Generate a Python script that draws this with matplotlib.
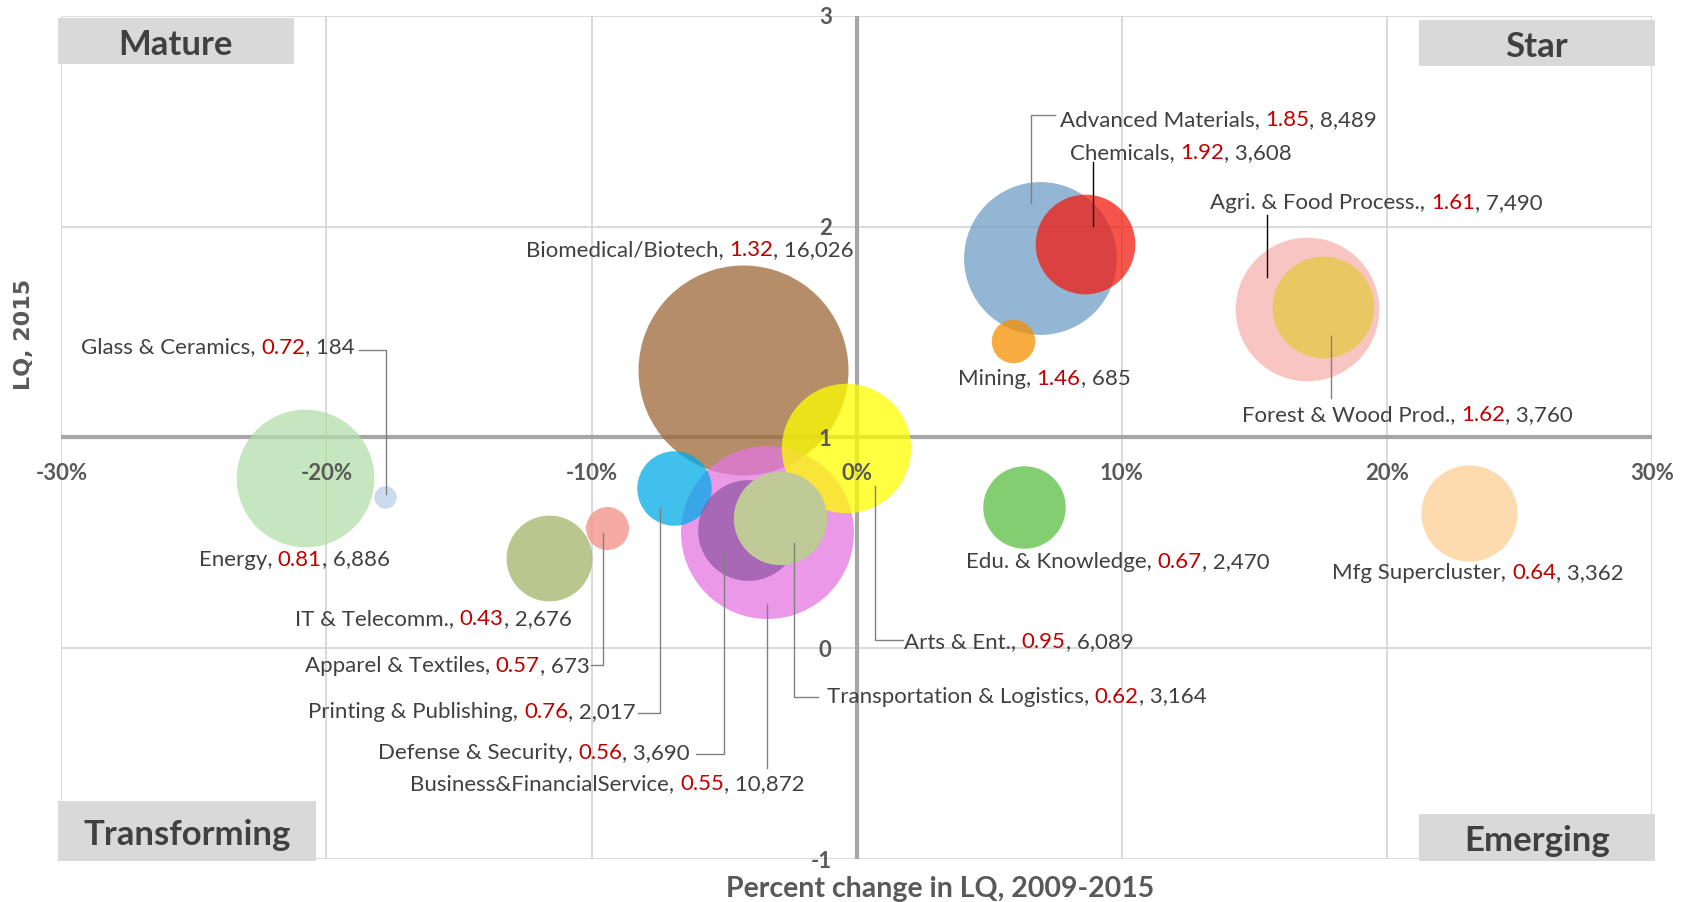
import matplotlib
matplotlib.use("Agg")
import matplotlib.pyplot as plt
import matplotlib.transforms as mtrans
from matplotlib.offsetbox import TextArea, HPacker, AnnotationBbox
from matplotlib.patches import Rectangle

plt.rcParams['font.family'] = ['Lato', 'DejaVu Sans']

# data (drawing order: back to front)
clusters = ["Energy", "Glass & Ceramics", "IT & Telecomm.", "Apparel & Textiles",
            "Biomedical/Biotech", "Business&FinancialService", "Printing & Publishing",
            "Defense & Security", "Arts & Ent.", "Transportation & Logistics",
            "Edu. & Knowledge", "Mfg Supercluster", "Advanced Materials", "Mining",
            "Chemicals", "Agri. & Food Process.", "Forest & Wood Prod."]
pct_change = [-20.8, -17.8, -11.6, -9.4, -4.3, -3.4, -6.9, -4.1, -0.4, -2.9,
              6.3, 23.1, 6.9, 5.9, 8.6, 17.0, 17.6]
lq_2015 = [0.81, 0.72, 0.43, 0.57, 1.32, 0.55, 0.76, 0.56, 0.95, 0.62,
           0.67, 0.64, 1.85, 1.46, 1.92, 1.61, 1.62]
employment = [6886, 184, 2676, 673, 16026, 10872, 2017, 3690, 6089, 3164,
              2470, 3362, 8489, 685, 3608, 7490, 3760]

x_ticks = [-30, -20, -10, 0, 10, 20, 30]
y_ticks = [-1, 0, 1, 2, 3]

# styling
colors = {"Energy": "#B2DEA8", "Glass & Ceramics": "#B7D0E8", "IT & Telecomm.": "#A4B46A",
          "Apparel & Textiles": "#F38E86", "Biomedical/Biotech": "#9C6837",
          "Business&FinancialService": "#E376E0", "Printing & Publishing": "#00ABE8",
          "Defense & Security": "#9258A5", "Arts & Ent.": "#FFFF00",
          "Transportation & Logistics": "#BFCA96", "Edu. & Knowledge": "#58BE40",
          "Mfg Supercluster": "#FDD094", "Advanced Materials": "#6F9EC8",
          "Mining": "#F69000", "Chemicals": "#F21C0E", "Agri. & Food Process.": "#F7B2AF",
          "Forest & Wood Prod.": "#E4C942"}
opaque = {"Transportation & Logistics"}

# label layout: alignment, offset from bubble centre in px (y down), leader path, leader colour
GREY = "#808080"
labels = {
    "Advanced Materials": ("left", 20, -139, [(15, -143), (-9, -143), (-9, -55)], GREY),
    "Chemicals": ("left", -15, -92, [(8, -82), (8, -18)], "#000000"),
    "Agri. & Food Process.": ("left", -97, -107, [(-40, -94), (-40, -32)], "#000000"),
    "Mining": ("center", 31, 37, None, None),
    "Forest & Wood Prod.": ("left", -81, 107, [(8, 91), (8, 29)], GREY),
    "Biomedical/Biotech": ("center", -53, -121, None, None),
    "Glass & Ceramics": ("right", -30, -150, [(-26, -147), (1, -147), (1, -3)], GREY),
    "Energy": ("center", -11, 81, None, None),
    "IT & Telecomm.": ("center", -116, 60, None, None),
    "Apparel & Textiles": ("right", -18, 137, [(-16, 137), (-4, 137), (-4, 5)], GREY),
    "Printing & Publishing": ("right", -38, 223, [(-36, 225), (-14, 225), (-14, 20)], GREY),
    "Defense & Security": ("right", -58, 222, [(-52, 224), (-24, 224), (-24, 22)], GREY),
    "Business&FinancialService": ("center", -159, 251, [(0, 236), (0, 72)], GREY),
    "Transportation & Logistics": ("left", 47, 178, [(38, 179), (14, 179), (14, 25)], GREY),
    "Arts & Ent.": ("left", 58, 193, [(57, 192), (29, 192), (29, 38)], GREY),
    "Edu. & Knowledge": ("center", 94, 54, None, None),
    "Mfg Supercluster": ("center", 9, 59, None, None),
}

TXT = "#404040"
RED = "#C00000"
TICK = "#595959"
GRID = "#D9D9D9"
AXL = "#A6A6A6"
LBL_FS = 16

fig = plt.figure(figsize=(16.9, 9.03), dpi=100)
ax = fig.add_axes([0.0363, 0.0476, 0.9412, 0.9336])
ax.set_xlim(-30, 30)
ax.set_ylim(-1, 3)
for s in ax.spines.values():
    s.set_visible(False)
ax.set_xticks(x_ticks)
ax.set_yticks(y_ticks)
ax.tick_params(length=0, labelbottom=False, labelleft=False)
ax.grid(True, color=GRID, lw=1.4, zorder=0)
ax.set_axisbelow(True)

ax.axhline(1, color=AXL, lw=3, zorder=1)
ax.axvline(0, color=AXL, lw=3, zorder=1)

# tick labels sit along the crossing axes
for xt in x_ticks:
    tr = mtrans.offset_copy(ax.transData, fig=fig, x=0, y=-35, units='dots')
    ax.text(xt, 1, f"{xt}%", transform=tr, ha='center', va='center',
            fontsize=16, fontweight='bold', color=TICK, zorder=6)
for yt in y_ticks:
    tr = mtrans.offset_copy(ax.transData, fig=fig, x=-25, y=-1, units='dots')
    ax.text(0, yt, f"{yt}", transform=tr, ha='right', va='center',
            fontsize=16, fontweight='bold', color=TICK, zorder=6)

# bubbles: area proportional to employment
k = (2 * 105 * 72 / 100) ** 2 / 16026
for name, x, y, e in zip(clusters, pct_change, lq_2015, employment):
    ax.scatter(x, y, s=e * k, color=colors[name],
               alpha=1.0 if name in opaque else 0.75, linewidths=0, zorder=2)

# data labels
for name, x, y, e in zip(clusters, pct_change, lq_2015, employment):
    ha, dx, dy, leader, lcol = labels[name]
    parts = [TextArea(f"{name}, ", textprops=dict(color=TXT, fontsize=LBL_FS)),
             TextArea(f"{y:.2f}", textprops=dict(color=RED, fontsize=LBL_FS)),
             TextArea(f", {e:,}", textprops=dict(color=TXT, fontsize=LBL_FS))]
    box = HPacker(children=parts, pad=0, sep=0, align='baseline')
    fx = {"left": 0.0, "center": 0.5, "right": 1.0}[ha]
    ab = AnnotationBbox(box, (x, y), xybox=(dx, -dy), xycoords='data',
                        boxcoords='offset pixels', box_alignment=(fx, 0.5),
                        frameon=False, pad=0, zorder=5)
    ax.add_artist(ab)
    if leader:
        tr = mtrans.Affine2D().scale(1, -1) + mtrans.ScaledTranslation(x, y, ax.transData)
        ax.plot([p[0] for p in leader], [p[1] for p in leader], color=lcol,
                lw=1, transform=tr, zorder=4, clip_on=False)

# quadrant name boxes
quads = [("Mature", -30.13, -21.23, 2.77, 2.99),
         ("Star", 21.21, 30.11, 2.765, 2.98),
         ("Transforming", -30.13, -20.40, -1.008, -0.723),
         ("Emerging", 21.21, 30.11, -1.008, -0.787)]
qtr = mtrans.offset_copy(ax.transData, fig=fig, x=0, y=-3, units='dots')
for q, x0, x1, y0, y1 in quads:
    ax.add_patch(Rectangle((x0, y0), x1 - x0, y1 - y0, facecolor="#D9D9D9",
                           edgecolor='none', zorder=3, clip_on=False))
    ax.text((x0 + x1) / 2, (y0 + y1) / 2, q, ha='center', va='center', transform=qtr,
            fontsize=25, fontweight='bold', color=TXT, zorder=4)

fig.text(0.556, 0.016, "Percent change in LQ, 2009-2015", ha='center', va='center',
         fontsize=20.5, fontweight='bold', color=TICK)
fig.text(0.014, 0.63, "LQ, 2015", rotation=90, ha='center', va='center',
         fontsize=16, fontweight='bold', color=TICK, family='DejaVu Sans')

fig.savefig("out.png", dpi=100)
